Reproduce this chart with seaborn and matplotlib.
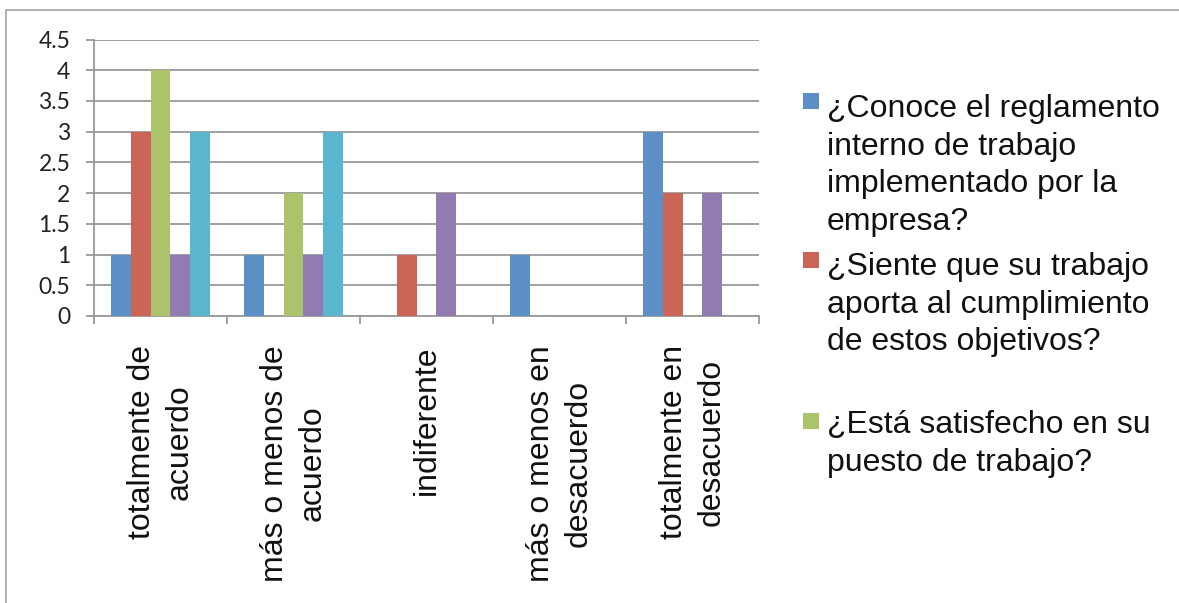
import numpy as np
import pandas as pd
import matplotlib
matplotlib.use("Agg")
import matplotlib.pyplot as plt
from matplotlib.patches import Rectangle
import seaborn as sns

# ---------------- data ----------------
categories = ["totalmente de acuerdo", "más o menos de acuerdo", "indiferente",
              "más o menos en desacuerdo", "totalmente en desacuerdo"]
tick_labels = ["totalmente de\nacuerdo", "más o menos de\nacuerdo", "indiferente",
               "más o menos en\ndesacuerdo", "totalmente en\ndesacuerdo"]
series_names = ["¿Conoce el reglamento interno de trabajo implementado por la empresa?",
                "¿Siente que su trabajo aporta al cumplimiento de estos objetivos?",
                "¿Está satisfecho en su puesto de trabajo?",
                "Serie 4", "Serie 5"]
legend_labels = ["¿Conoce el reglamento\ninterno de trabajo\nimplementado por la\nempresa?",
                 "¿Siente que su trabajo\naporta al cumplimiento\nde estos objetivos?",
                 "¿Está satisfecho en su\npuesto de trabajo?"]
conoce = [1, 1, 0, 1, 3]
siente = [3, 0, 1, 0, 2]
satisfecho = [4, 2, 0, 0, 0]
serie4 = [1, 1, 2, 0, 2]
serie5 = [3, 3, 0, 0, 0]
y_ticks = [0, 0.5, 1, 1.5, 2, 2.5, 3, 3.5, 4, 4.5]
y_tick_labels = ["0", "0.5", "1", "1.5", "2", "2.5", "3", "3.5", "4", "4.5"]

colors = ["#5B8FC6", "#CB6558", "#ABC36A", "#917BB0", "#5AB7CF"]

values = [conoce, siente, satisfecho, serie4, serie5]
df = pd.DataFrame({
    "categoria": np.tile(categories, len(series_names)),
    "serie": np.repeat(series_names, len(categories)),
    "valor": np.concatenate(values),
})

# ---------------- style ----------------
sns.set_theme(style="white")
plt.rcParams["font.family"] = ["Liberation Sans", "DejaVu Sans"]

W, H = 1179, 603
fig = plt.figure(figsize=(W / 100, H / 100), dpi=100)
ax = fig.add_axes([94 / W, 1 - 316 / H, (759 - 94) / W, (316 - 39.5) / H])

sns.barplot(data=df, x="categoria", y="valor", hue="serie",
            order=categories, hue_order=series_names, palette=colors,
            saturation=1, width=0.75, errorbar=None, linewidth=0,
            legend=False, ax=ax, zorder=3)

grid_col = "#999999"
ax.set_ylim(0, 4.5)
ax.set_xlim(-0.5, len(categories) - 0.5)
ax.set_yticks(y_ticks)
ax.set_yticklabels(y_tick_labels, fontfamily="Lato", fontsize=16.5, color="#222222")
ax.yaxis.grid(True, color=grid_col, linewidth=1.3, zorder=0)
ax.set_axisbelow(True)

ax.set_xticks(np.arange(-0.5, len(categories), 1))
ax.set_xticklabels([""] * (len(categories) + 1))
ax.set_xticks(np.arange(len(categories)), minor=True)
ax.set_xticklabels(tick_labels, minor=True, rotation=90, fontsize=23,
                   linespacing=1.33, multialignment="center", color="#111111")
ax.tick_params(axis="x", which="major", length=6, width=1.3, color=grid_col,
               direction="out", bottom=True)
ax.tick_params(axis="x", which="minor", length=0, pad=21, bottom=True)
ax.tick_params(axis="y", which="major", length=6, width=1.3, color=grid_col,
               direction="out", left=True, pad=11)
ax.set_xlabel("")
ax.set_ylabel("")
for s in ["top", "right"]:
    ax.spines[s].set_visible(False)
for s in ["left", "bottom"]:
    ax.spines[s].set_color(grid_col)
    ax.spines[s].set_linewidth(1.3)

# ---------------- legend (first three entries visible) ----------------
sq = 16
entry_tops = [94, 252, 410]
square_tops = [93, 252, 413]
for i, lab in enumerate(legend_labels):
    fig.add_artist(Rectangle((803 / W, 1 - (square_tops[i] + sq) / H), sq / W, sq / H,
                             transform=fig.transFigure, facecolor=colors[i],
                             edgecolor="none"))
    fig.text(827 / W, 1 - entry_tops[i] / H, lab, fontsize=23, va="top", ha="left",
             linespacing=1.33, color="#111111")

# ---------------- outer chart frame ----------------
fig.add_artist(Rectangle((6 / W, -0.5), 2, 0.5 + 1 - 10 / H,
                         transform=fig.transFigure, fill=False,
                         edgecolor="#AAAAAA", linewidth=1.3, clip_on=False))

fig.savefig("out.png", dpi=100, facecolor="white")
